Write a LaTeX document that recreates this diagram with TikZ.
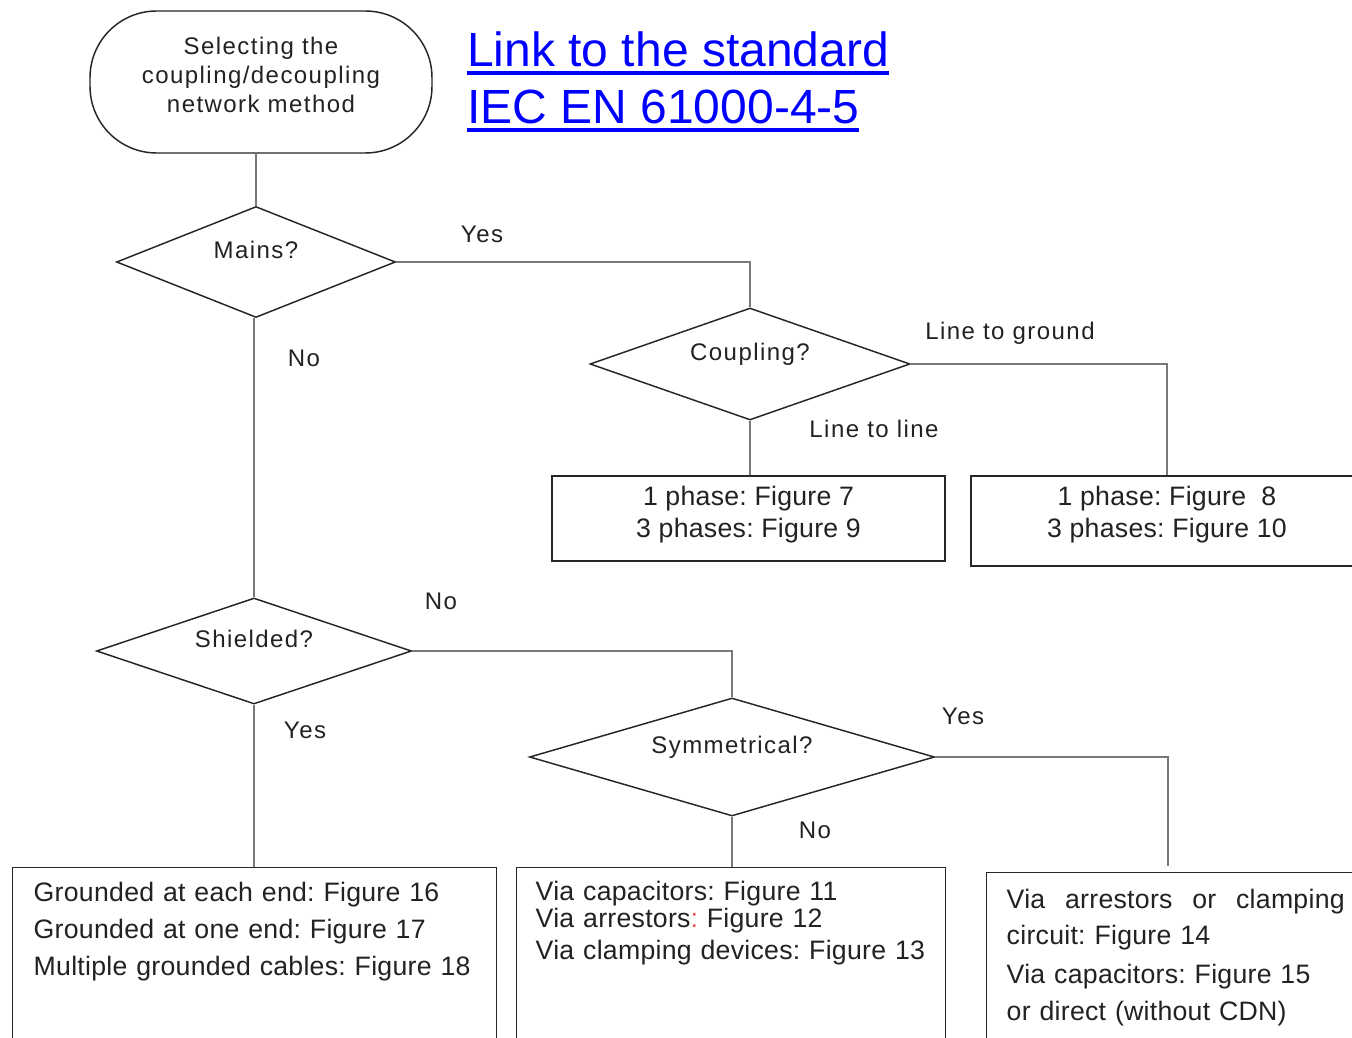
\documentclass[tikz,border=0pt]{standalone}
\usepackage{fontspec}
\setmainfont{Liberation Sans}
\newfontfamily\lblfont[LetterSpace=6]{Liberation Sans}
\newfontfamily\boxfont[LetterSpace=1]{Liberation Sans}
\usetikzlibrary{shapes.geometric}
\frenchspacing
\definecolor{linkblue}{RGB}{0,0,255}
\definecolor{txt}{RGB}{34,34,34}
\definecolor{connc}{RGB}{120,120,120}
\newsavebox\ulbox
\newcommand\linkul[1]{\sbox\ulbox{#1}\rlap{\rule[-6pt]{\wd\ulbox}{3pt}}\usebox\ulbox}
\tikzset{
 shp/.style={draw=black!85, line width=1.1pt, text=txt},
 dia/.style={shp, diamond, aspect=3, inner sep=0pt, font=\lblfont\fontsize{18}{21.75}\selectfont, text height=13pt, text depth=18pt},
 term/.style={shp, rectangle, rounded corners=50pt, minimum width=256.5pt, minimum height=106.5pt, align=center, font=\lblfont\fontsize{18}{21.75}\selectfont},
 cbox/.style={shp, rectangle, align=center, font=\boxfont\fontsize{20}{24}\selectfont, inner sep=0pt},
 tbox/.style={shp, rectangle, anchor=north west, align=left, font=\boxfont\fontsize{20}{27.75}\selectfont},
 lbl/.style={text=txt, font=\lblfont\fontsize{18}{21.75}\selectfont, anchor=base, inner sep=0pt},
 conn/.style={draw=connc, line width=1.1pt},
 lnk/.style={text=linkblue, font=\fontsize{36}{43}\selectfont, anchor=base west, inner sep=0pt}
}
\begin{document}
\begin{tikzpicture}[x=0.75pt,y=-0.75pt]
\useasboundingbox (0,0) rectangle (1352,1038);
\fill[white] (0,0) rectangle (1352,1038);
\clip (0,0) rectangle (1352,1038);

\node[term] (start) at (261,82) {Selecting the\\coupling/decoupling\\network method\rule[-11pt]{0pt}{0pt}};

\node[dia, minimum width=209.25pt, minimum height=83.25pt] (mains) at (256,262) {Mains?};
\node[dia, minimum width=240pt, minimum height=84pt] (coupling) at (750,364) {Coupling?};
\node[dia, minimum width=236.25pt, minimum height=79.5pt] (shielded) at (254,651) {Shielded?};
\node[dia, minimum width=303.75pt, minimum height=88.5pt] (symm) at (732,757) {Symmetrical?};

\node[cbox, minimum width=294.75pt, minimum height=63.75pt] (b1) at (748.5,518.5) {1 phase: Figure 7\\3 phases: Figure 9\rule[-10pt]{0pt}{0pt}};
\node[cbox, minimum width=294pt, minimum height=67.5pt] (b2) at (1167,521) {1 phase: Figure\ \ 8\\3 phases: Figure 10\rule[-13.7pt]{0pt}{0pt}};

\node[tbox, text width=331.5pt, inner xsep=15.75pt, inner ysep=11pt] (b4) at (12,867) {\mbox{Grounded at each end: Figure 16}\\\mbox{Grounded at one end: Figure 17}\\\mbox{Multiple grounded cables: Figure 18}\rule[-80pt]{0pt}{0pt}};
\node[tbox, font=\boxfont\fontsize{20}{20.25}\selectfont, text width=293.25pt, inner xsep=14.25pt, inner ysep=9.8pt] (b5) at (516,867) {\mbox{Via capacitors: Figure 11}\\\mbox{Via arrestors{\color{red!70}:} Figure 12}\\[3.75pt]\mbox{Via clamping devices: Figure 13}\rule[-90pt]{0pt}{0pt}};
\node[tbox, font=\boxfont\fontsize{20}{27}\selectfont, text width=258pt, inner xsep=15pt, inner ysep=12pt] (b6) at (986,872) {\makebox[253.5pt][l]{Via\hfill arrestors\hfill or\hfill clamping}\\\mbox{circuit: Figure 14}\\[2.25pt]\mbox{Via capacitors: Figure 15}\\[0.75pt]\mbox{or direct (without CDN)}\rule[-60pt]{0pt}{0pt}};

\node[lbl] (lyes1) at (482,242) {Yes};
\node[lbl] (lno1) at (304,366) {No};
\node[lbl] (lltg) at (1010,339) {Line to ground};
\node[lbl] (lltl) at (874,437) {Line to line};
\node[lbl] (lno2) at (441,609) {No};
\node[lbl] (lyes2) at (305,738) {Yes};
\node[lbl] (lyes3) at (963,724) {Yes};
\node[lbl] (lno3) at (815,838) {No};

\node[lnk] (link1) at (467,67) {\linkul{Link to the standard}};
\node[lnk] (link2) at (467,124) {\linkul{IEC EN 61000-4-5}};

\draw[conn] (start.south -| mains.north) -- (mains.north);
\draw[conn] (mains.east) -| (coupling.north);
\draw[conn] (coupling.east) -| (b2.north);
\draw[conn] (coupling.south) -- (coupling.south |- b1.north);
\draw[conn] (shielded.north |- mains.south) -- (shielded.north);
\draw[conn] (shielded.east) -| (symm.north);
\coordinate (c6) at (1168,866);
\draw[conn] (symm.east) -| (c6);
\draw[conn] (symm.south) -- (symm.south |- b5.north);
\draw[conn] (shielded.south) -- (shielded.south |- b4.north);
\end{tikzpicture}
\end{document}
